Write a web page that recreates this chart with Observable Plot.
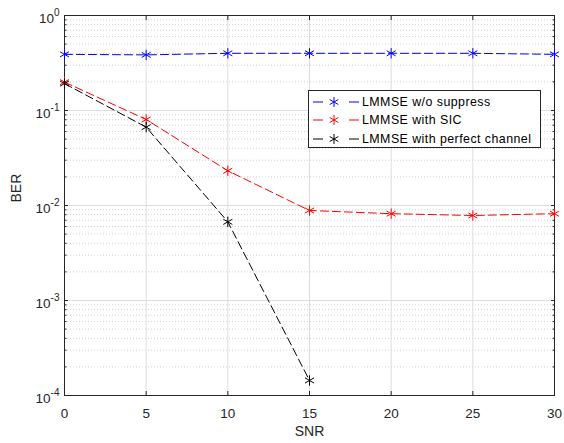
<!DOCTYPE html>
<html>
<head>
<meta charset="utf-8">
<script src="https://cdn.jsdelivr.net/npm/d3@7"></script>
<script src="https://cdn.jsdelivr.net/npm/@observablehq/plot@0.6"></script>
<style>
  html, body { margin: 0; padding: 0; background: #fff; }
  #wrap { position: relative; width: 564px; height: 443px; font-family: "Liberation Sans", Arial, Helvetica, sans-serif; }
  #legend { position: absolute; left: 308px; top: 90px; width: 233px; height: 58px; border: 1px solid #262626; background: #fff; box-sizing: border-box; }
  .row { position: absolute; left: 0; height: 18px; display: flex; align-items: center; font-size: 12.4px; letter-spacing: 0.45px; color: #000; white-space: nowrap; }
  .row svg { display: block; margin-right: 2px; }
</style>
</head>
<body>
<div id="wrap"></div>
<script>
// ---- data ----
const snr = [0, 5, 10, 15, 20, 25, 30];
const berNoSuppress = [0.39, 0.385, 0.40, 0.40, 0.40, 0.40, 0.39];
const berSIC = [0.199, 0.0804, 0.0232, 0.00886, 0.0082, 0.00785, 0.0082];
const snrPerfect = [0, 5, 10, 15];
const berPerfect = [0.192, 0.0668, 0.00673, 0.000144];
const seriesNames = ["LMMSE w/o suppress", "LMMSE with SIC", "LMMSE with perfect channel"];
const seriesColors = ["#0000ff", "#ff0000", "#000000"];
const xTicks = [0, 5, 10, 15, 20, 25, 30];
const yTicks = [1e-4, 1e-3, 1e-2, 1e-1, 1];
const yMinor = [];
for (let e = -4; e < 0; e++) for (let m = 2; m <= 9; m++) yMinor.push(m * Math.pow(10, e));

const rows = [];
snr.forEach((s, i) => rows.push({series: seriesNames[0], snr: s, ber: berNoSuppress[i]}));
snr.forEach((s, i) => rows.push({series: seriesNames[1], snr: s, ber: berSIC[i]}));
snrPerfect.forEach((s, i) => rows.push({series: seriesNames[2], snr: s, ber: berPerfect[i]}));

const axisColor = "#262626";
const font = '"Liberation Sans", Arial, Helvetica, sans-serif';

const chart = Plot.plot({
  width: 564,
  height: 443,
  marginLeft: 64,
  marginRight: 10,
  marginTop: 15,
  marginBottom: 48,
  style: {fontFamily: font, fontSize: "13px", color: axisColor, background: "#fff"},
  x: {domain: [0, 30]},
  y: {type: "log", domain: [1e-4, 1]},
  color: {domain: seriesNames, range: seriesColors},
  marks: [
    Plot.ruleY(yMinor, {stroke: "#d0d0d0", strokeDasharray: "1,2", strokeWidth: 1}),
    Plot.ruleY(yTicks, {stroke: "#dedede", strokeWidth: 1}),
    Plot.ruleX(xTicks, {stroke: "#dedede", strokeWidth: 1}),
    Plot.axisX(xTicks, {anchor: "bottom", tickSize: -4, tickPadding: 17, tickFormat: d => String(d), fontSize: 13.5, fill: axisColor, stroke: axisColor, label: null}),
    Plot.axisX(xTicks, {anchor: "top", tickSize: -4, tickFormat: () => "", stroke: axisColor, label: null}),
    Plot.axisY(yTicks, {anchor: "left", tickSize: -4, tickPadding: 9, tickFormat: d => "10|" + Math.round(Math.log10(d)), fontSize: 13.5, fill: axisColor, stroke: axisColor, label: null, className: "ylab"}),
    Plot.axisY(yMinor, {anchor: "left", tickSize: -2.5, tickFormat: () => "", stroke: axisColor, label: null}),
    Plot.axisY(yTicks, {anchor: "right", tickSize: -4, tickFormat: () => "", stroke: axisColor, label: null}),
    Plot.axisY(yMinor, {anchor: "right", tickSize: -2.5, tickFormat: () => "", stroke: axisColor, label: null}),
    Plot.frame({stroke: axisColor, strokeWidth: 1}),
    Plot.line(rows, {x: "snr", y: "ber", z: "series", stroke: "series", strokeWidth: 1, strokeDasharray: "8,4"}),
    Plot.dot(rows, {x: "snr", y: "ber", stroke: "series", symbol: "asterisk", r: 4.9, strokeWidth: 1}),
    Plot.text(["SNR"], {frameAnchor: "bottom", dy: 40, fontSize: 14, fill: axisColor, text: d => d}),
    Plot.text(["BER"], {frameAnchor: "left", dx: -48, dy: -3, rotate: -90, fontSize: 14, fill: axisColor, text: d => d})
  ]
});

// superscript exponents on the y tick labels
d3.select(chart).selectAll("g.ylab text").each(function() {
  const t = this.textContent;
  if (t.indexOf("|") < 0) return;
  const [base, exp] = t.split("|");
  const sel = d3.select(this);
  sel.text(null);
  sel.append("tspan").attr("dy", 3).text(base);
  sel.append("tspan").attr("dy", -7).attr("font-size", "10px").text(exp);
});

const wrap = document.getElementById("wrap");
wrap.appendChild(chart);

// legend
const legend = document.createElement("div");
legend.id = "legend";
wrap.appendChild(legend);
const symPath = d3.symbol(d3.symbolAsterisk, 70)();
seriesNames.forEach((name, i) => {
  const row = document.createElement("div");
  row.className = "row";
  row.style.top = (2 + i * 18.3) + "px";
  row.style.left = "3px";
  const s = d3.create("svg").attr("width", 48).attr("height", 18);
  s.append("line").attr("x1", 1).attr("x2", 47).attr("y1", 9).attr("y2", 9)
    .attr("stroke", seriesColors[i]).attr("stroke-width", 1).attr("stroke-dasharray", "10,26");
  s.append("path").attr("d", symPath).attr("transform", "translate(22,9)")
    .attr("fill", "none").attr("stroke", seriesColors[i]).attr("stroke-width", 1);
  row.appendChild(s.node());
  const span = document.createElement("span");
  span.textContent = name;
  row.appendChild(span);
  legend.appendChild(row);
});
</script>
</body>
</html>
